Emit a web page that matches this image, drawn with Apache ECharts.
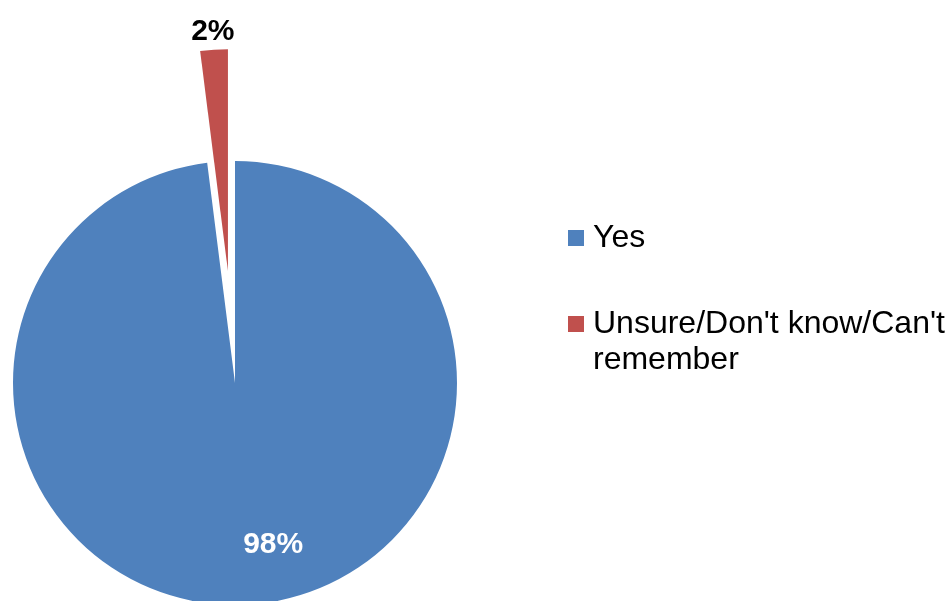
<!DOCTYPE html>
<html>
<head>
<meta charset="utf-8">
<script src="https://cdn.jsdelivr.net/npm/echarts@6/dist/echarts.min.js"></script>
<style>
html,body{margin:0;padding:0;background:#fff;}
#chart{width:951px;height:601px;}
</style>
</head>
<body>
<div id="chart"></div>
<script>
const categories = ['Yes', "Unsure/Don't know/Can't remember"];
const values = [98, 2];
const legendLabels = ['Yes', "\nUnsure/Don't know/Can't\nremember"];
const colors = ['#4F81BD', '#C0504D'];

const chart = echarts.init(document.getElementById('chart'), null, {renderer: 'canvas'});
const font = "'Liberation Sans', Arial, sans-serif";

const data = categories.map((c, i) => {
  const item = {
    name: c,
    value: values[i],
    itemStyle: {color: colors[i]}
  };
  if (i === 0) {
    item.label = {color: '#fff', offset: [31, 48]};
    item.select = {itemStyle: {color: colors[i], borderWidth: 0}, label: {color: '#fff', offset: [31, 48]}};
  } else {
    item.selected = true;
    item.label = {color: '#000', offset: [-8, -126]};
    item.select = {itemStyle: {color: colors[i], borderWidth: 0}, label: {color: '#000', offset: [-8, -126]}};
  }
  return item;
});

chart.setOption({
  animation: false,
  backgroundColor: '#fff',
  legend: [
    {
      data: [categories[0]],
      orient: 'vertical', left: 568, top: 220, padding: 0,
      itemWidth: 16, itemHeight: 16, icon: 'rect',
      selectedMode: false,
      formatter: (n) => legendLabels[categories.indexOf(n)],
      textStyle: {fontFamily: font, fontSize: 32, color: '#000', lineHeight: 36, padding: [0, 0, 0, 4]}
    },
    {
      data: [categories[1]],
      orient: 'vertical', left: 568, top: 270, padding: 0,
      itemWidth: 16, itemHeight: 16, icon: 'rect',
      selectedMode: false,
      formatter: (n) => legendLabels[categories.indexOf(n)],
      textStyle: {fontFamily: font, fontSize: 32, color: '#000', lineHeight: 36, padding: [0, 0, 0, 4]}
    }
  ],
  series: [{
    type: 'pie',
    center: [235, 383],
    radius: [0, 222],
    startAngle: 90,
    clockwise: true,
    selectedMode: 'single',
    selectedOffset: 112,
    avoidLabelOverlap: false,
    emphasis: {disabled: true},
    itemStyle: {borderWidth: 0},
    label: {
      show: true,
      position: 'inside',
      formatter: (p) => p.value + '%',
      fontFamily: font,
      fontSize: 30,
      fontWeight: 'bold'
    },
    labelLine: {show: false},
    data: data
  }]
});
</script>
</body>
</html>
